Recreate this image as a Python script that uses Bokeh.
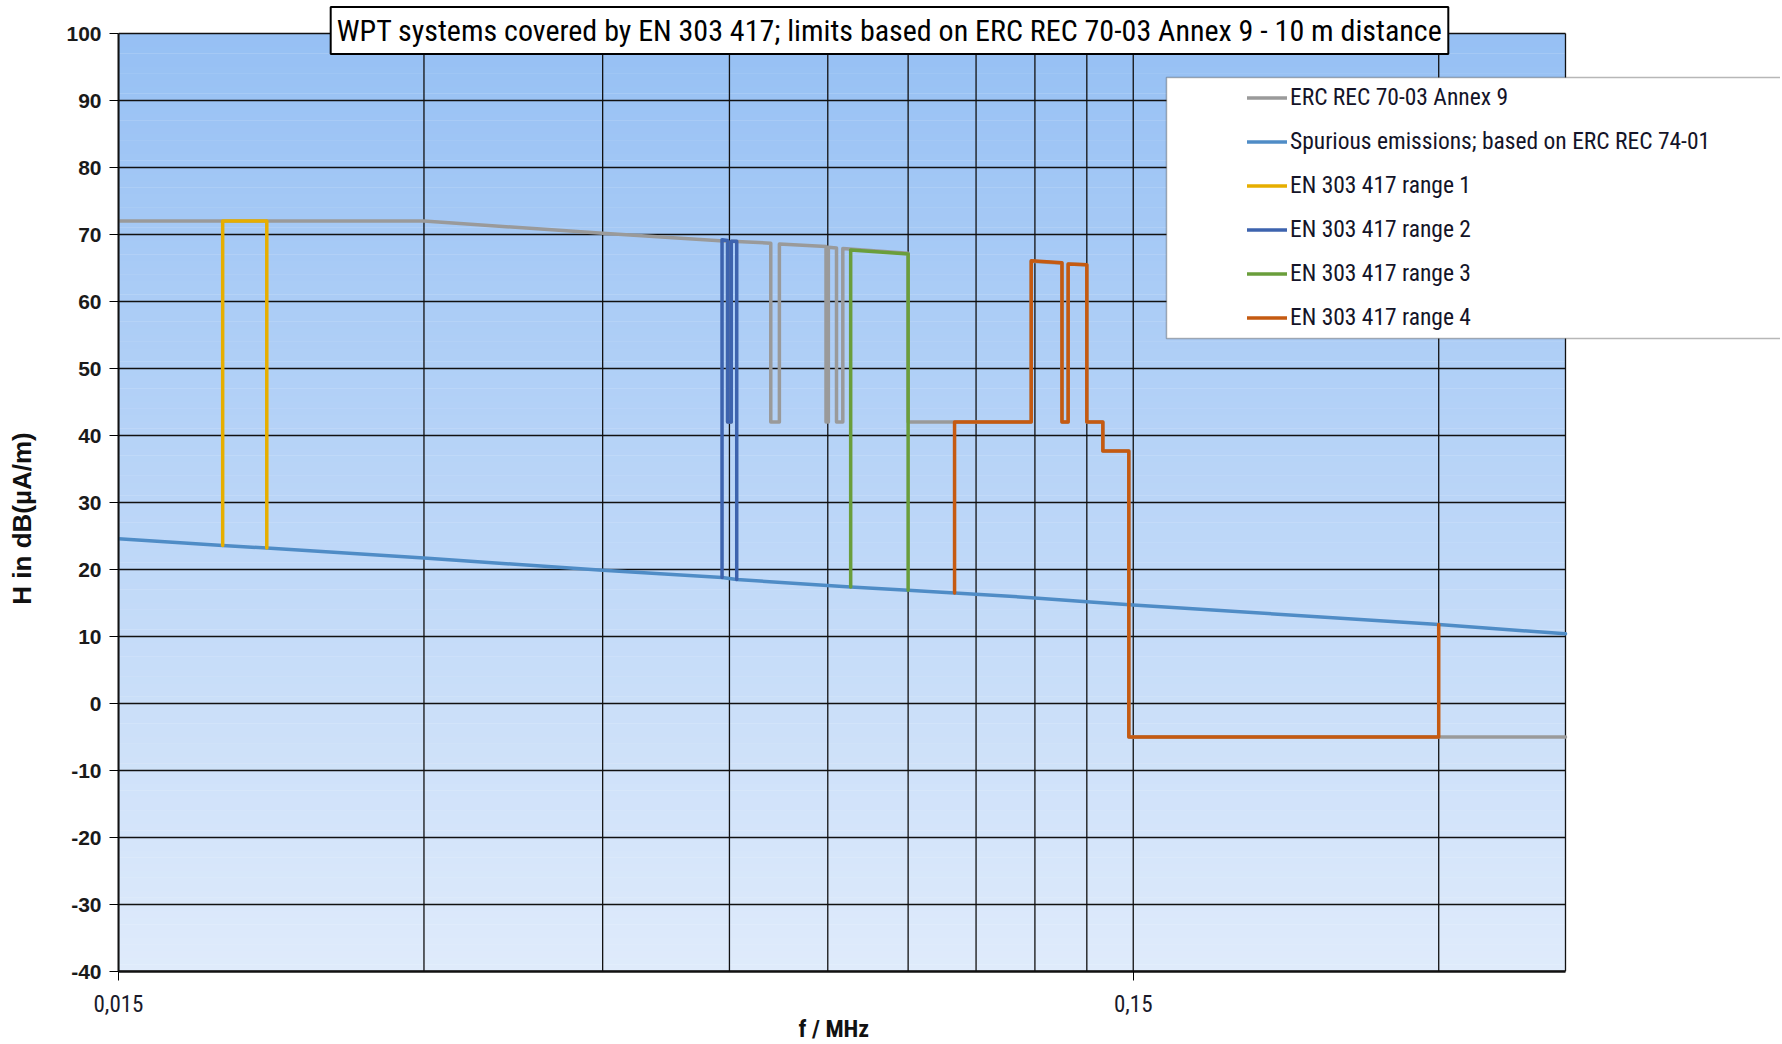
import math
from bokeh.plotting import figure
from bokeh.models import (FixedTicker, CustomJSTickFormatter, Label, Legend,
                          LegendItem, BoxAnnotation, Range1d, Title)
from bokeh.embed import file_html
from bokeh.resources import INLINE

# ---------------- data ----------------
title_text = "WPT systems covered by EN 303 417; limits based on ERC REC 70-03 Annex 9 - 10 m distance"
x_label = "f / MHz"
y_label = "H in dB(\u00b5A/m)"
series_names = ["ERC REC 70-03 Annex 9",
                "Spurious emissions; based on ERC REC 74-01",
                "EN 303 417 range 1",
                "EN 303 417 range 2",
                "EN 303 417 range 3",
                "EN 303 417 range 4"]

x_major_ticks = [0.015, 0.15]
x_minor_ticks = [0.03, 0.045, 0.06, 0.075, 0.09, 0.105, 0.12, 0.135, 0.3]
y_ticks = [-40, -30, -20, -10, 0, 10, 20, 30, 40, 50, 60, 70, 80, 90, 100]

f_erc = [0.015, 0.03, 0.045, 0.05975, 0.05975, 0.06025, 0.06025, 0.0659, 0.0659,
         0.0672, 0.0672, 0.0747, 0.0747, 0.0751, 0.0751, 0.0765, 0.0765, 0.0776,
         0.0776, 0.09, 0.09, 0.119, 0.119, 0.1276, 0.1276, 0.1294, 0.1294, 0.135,
         0.135, 0.14, 0.14, 0.1485, 0.1485, 0.4]
h_erc = [72, 72, 70.2, 69.0, 42, 42, 69.0, 68.7, 42,
         42, 68.6, 68.2, 42, 42, 68.1, 68.0, 42, 42,
         67.9, 67.2, 42, 42, 66.0, 65.7, 42, 42, 65.6, 65.5,
         42, 42, 37.7, 37.7, -5, -5]

f_spur = [0.015, 0.019, 0.021, 0.03, 0.045, 0.059, 0.061, 0.079, 0.09, 0.1,
          0.119, 0.135, 0.15, 0.3, 0.4]
h_spur = [24.6, 23.6, 23.2, 21.7, 19.9, 18.8, 18.5, 17.4, 16.9, 16.5,
          15.8, 15.2, 14.7, 11.8, 10.4]

f_r1 = [0.019, 0.019, 0.021, 0.021]
h_r1 = [23.6, 72, 72, 23.2]

f_r2 = [0.059, 0.059, 0.05975, 0.05975, 0.06025, 0.06025, 0.061, 0.061]
h_r2 = [18.8, 69.2, 69.1, 42, 42, 69.0, 69.0, 18.5]

f_r3 = [0.079, 0.079, 0.09, 0.09]
h_r3 = [17.4, 67.7, 67.1, 16.9]

f_r4 = [0.1, 0.1, 0.119, 0.119, 0.1276, 0.1276, 0.1294, 0.1294, 0.135, 0.135,
        0.14, 0.14, 0.1485, 0.1485, 0.3, 0.3]
h_r4 = [16.5, 42, 42, 66.1, 65.8, 42, 42, 65.6, 65.5, 42,
        42, 37.7, 37.7, -5, -5, 11.8]

colors = ["#9A9A9A", "#4F8CC6", "#E6AE00", "#3D63AE", "#6A9E3B", "#C55A11"]

COND = "Roboto Condensed, Liberation Sans Narrow, Liberation Sans, sans-serif"
SANS = "Liberation Sans, Arial, sans-serif"

# ---------------- layout (pixels) ----------------
W, H = 1780, 1044
PL, PR, PT, PB = 118, 1565, 33, 971          # plot-area edges
X0, X1 = 0.015, 0.4
Y0, Y1 = -40, 100
DPX = (PR - PL) / math.log10(X1 / X0)


def fx(px):
    return X0 * 10 ** ((px - PL) / DPX)


def fy(py):
    return Y1 - (py - PT) * (Y1 - Y0) / (PB - PT)


p = figure(width=W, height=H, x_axis_type="log",
           x_range=Range1d(X0, fx(W)), y_range=Range1d(Y0, fy(0)),
           output_backend="svg", toolbar_location=None,
           min_border_left=PL, min_border_right=0,
           min_border_top=0, min_border_bottom=H - PB,
           background_fill_color="white", border_fill_color="white")
p.outline_line_color = None
p.xgrid.visible = False
p.ygrid.visible = False

# gradient background of the plot area (styling only)
n_bands = 140
top_rgb = (150, 192, 244)
bot_rgb = (223, 235, 251)
b_bottom, b_top, b_col = [], [], []
for i in range(n_bands):
    lo = Y0 + (Y1 - Y0) * i / n_bands
    hi = Y0 + (Y1 - Y0) * (i + 1) / n_bands
    t = (i + 0.5) / n_bands
    c = tuple(int(round(bot_rgb[k] + (top_rgb[k] - bot_rgb[k]) * t)) for k in range(3))
    b_bottom.append(lo)
    b_top.append(min(hi + 0.05, Y1))
    b_col.append("#%02x%02x%02x" % c)
bg = p.quad(left=X0, right=X1, bottom=b_bottom, top=b_top, fill_color=b_col,
            line_color=None)
bg.level = "image"

# grid lines (limited to the plot area)
hg = p.segment(x0=[X0] * len(y_ticks), x1=[X1] * len(y_ticks), y0=y_ticks, y1=y_ticks,
               line_color="#111111", line_width=1.5)
hg.level = "underlay"
vx = x_major_ticks + x_minor_ticks + [X1]
vg = p.segment(x0=vx, x1=vx, y0=[Y0] * len(vx), y1=[Y1] * len(vx),
               line_color="#111111", line_width=1.3)
vg.level = "underlay"

# axes
p.xaxis.ticker = FixedTicker(ticks=x_major_ticks)
p.xaxis.bounds = (X0, X1)
p.xaxis.formatter = CustomJSTickFormatter(code="return tick.toString().replace('.', ',');")
p.xaxis.major_tick_in = 0
p.xaxis.major_tick_out = 9
p.xaxis.minor_tick_line_color = None
p.xaxis.major_label_standoff = 14
p.xaxis.major_label_text_font = COND
p.xaxis.major_label_text_font_size = "23px"
p.xaxis.major_label_text_color = "#1a1a2a"
p.xaxis.axis_line_width = 2.5
p.xaxis.axis_line_color = "#111111"

# x-axis title placed under the plot area (centred on the reference position)
p.add_layout(Title(text=x_label, align="left", offset=680, standoff=0,
                   vertical_align="top", text_font=COND, text_font_style="bold",
                   text_font_size="24px", text_color="#111111"), "below")

p.yaxis.ticker = FixedTicker(ticks=y_ticks)
p.yaxis.bounds = (Y0, Y1)
p.yaxis.formatter = CustomJSTickFormatter(code="return tick.toString();")
p.yaxis.major_tick_in = 0
p.yaxis.major_tick_out = 9
p.yaxis.minor_tick_line_color = None
p.yaxis.major_label_standoff = 8
p.yaxis.major_label_text_font = SANS
p.yaxis.major_label_text_font_style = "bold"
p.yaxis.major_label_text_font_size = "21px"
p.yaxis.major_label_text_color = "#1a1a1a"
p.yaxis.axis_line_width = 2
p.yaxis.axis_line_color = "#111111"
p.yaxis.axis_label = y_label + "\u00a0" * 9
p.yaxis.axis_label_text_font = SANS
p.yaxis.axis_label_text_font_style = "bold"
p.yaxis.axis_label_text_font_size = "26px"
p.yaxis.axis_label_text_color = "#111111"
p.yaxis.axis_label_standoff = 26

# series
common = dict(line_width=3.5, line_join="round", line_cap="round")
r_erc = p.line(f_erc, h_erc, line_color=colors[0], **common)
r_spur = p.line(f_spur, h_spur, line_color=colors[1], **common)
r1 = p.line(f_r1, h_r1, line_color=colors[2], **common)
r2 = p.line(f_r2, h_r2, line_color=colors[3], **common)
r3 = p.line(f_r3, h_r3, line_color=colors[4], **common)
r4 = p.line(f_r4, h_r4, line_color=colors[5], **common)
rends = [r_erc, r_spur, r1, r2, r3, r4]

# legend box (white, runs off the right edge)
box = BoxAnnotation(left=fx(1166), right=fx(W + 40), top=fy(77), bottom=fy(338),
                    fill_color="white", fill_alpha=1.0,
                    line_color="#111111", line_width=1.5, level="annotation")
p.add_layout(box)

legend = Legend(items=[LegendItem(label=n, renderers=[r]) for n, r in zip(series_names, rends)],
                location=(1247 - PL, PB - 331))
legend.background_fill_alpha = 0
legend.border_line_alpha = 0
legend.padding = 0
legend.margin = 0
legend.spacing = 16
legend.glyph_width = 40
legend.glyph_height = 27
legend.label_height = 27
legend.label_standoff = 3
legend.label_text_font = COND
legend.label_text_font_size = "23.5px"
legend.label_text_color = "#141428"
p.add_layout(legend)

# title box overlapping the top of the plot area
title = Label(x=fx(889), y=fy(30), text=title_text, text_align="center",
              text_baseline="middle", text_font=COND, text_font_size="30px",
              text_color="#000000", background_fill_color="white",
              background_fill_alpha=1.0, border_line_color="#000000",
              border_line_width=2, padding=6)
p.add_layout(title)

open("out.html", "w").write(file_html(p, INLINE))
